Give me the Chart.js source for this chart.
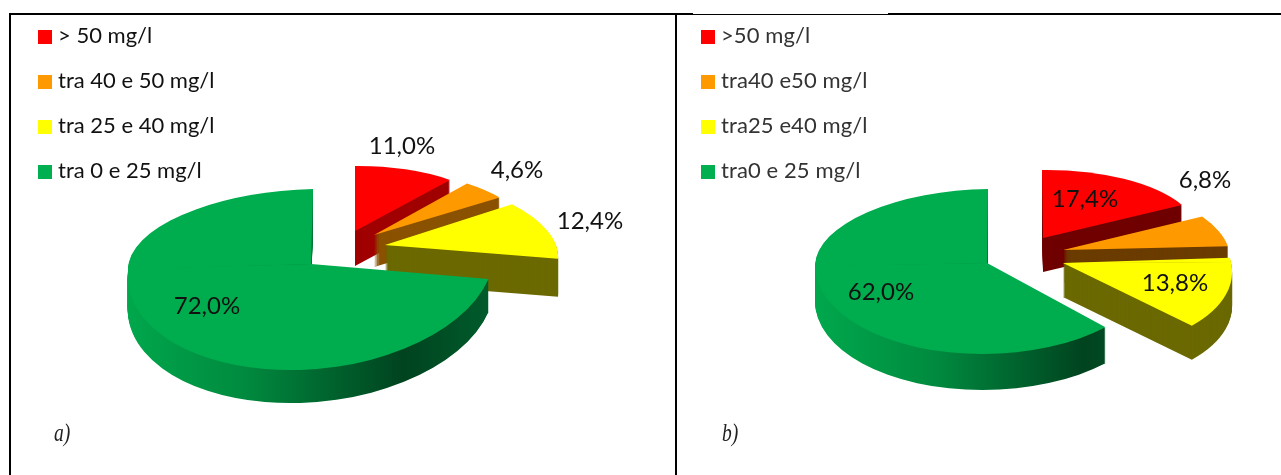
<!DOCTYPE html>
<html>
<head>
<meta charset="utf-8">
<script src="https://cdn.jsdelivr.net/npm/chart.js@4"></script>
<style>
  html, body { margin:0; padding:0; background:#fff; }
  #page { position:relative; width:1281px; height:475px; overflow:hidden; }
  canvas { position:absolute; top:0; }
  .rule { position:absolute; background:#000; }
  .row { position:absolute; font-family:Lato, sans-serif; white-space:pre; line-height:24px; height:24px; }
  .box { position:absolute; width:14px; height:14px; top:7px; left:0; }
  .tag { position:absolute; top:419px; font:italic 25px "Liberation Serif", serif; color:#222; transform:scaleX(0.78); transform-origin:left top; }
</style>
</head>
<body>
<div id="page">
  <canvas id="pieA" width="676" height="475" style="left:0"></canvas>
  <canvas id="pieB" width="605" height="475" style="left:676px"></canvas>
  <div class="rule" style="left:9px;top:13px;width:684px;height:2px"></div>
  <div class="rule" style="left:693px;top:14px;width:195px;height:1px"></div>
  <div class="rule" style="left:888px;top:13px;width:393px;height:2px"></div>
  <div class="rule" style="left:9px;top:13px;width:2px;height:462px"></div>
  <div class="rule" style="left:675px;top:13px;width:2px;height:462px"></div>
  <div class="tag" style="left:54px">a)</div>
  <div class="tag" style="left:722px">b)</div>
</div>
<script>
const labelsA = ["> 50 mg/l", "tra 40 e 50 mg/l", "tra 25 e 40 mg/l", "tra 0 e 25 mg/l"];
const labelsB = [">50 mg/l", "tra40 e50 mg/l", "tra25 e40 mg/l", "tra0 e 25 mg/l"];
const valuesA = [11.0, 4.6, 12.4, 72.0];
const valuesB = [17.4, 6.8, 13.8, 62.0];

const COLORS = ["#ff0000", "#ff9900", "#ffff00", "#00ad4e"];
const LEGEND_COLORS = ["#ff0000", "#ff9900", "#ffff00", "#00b050"];
const SIDES_A = ["#a00000", "#8a5200", "#6b6900", null];
const SIDES_B = ["#700000", "#6b3c00", "#6b6900", null];
const LABEL_FONT = "24px Lato, sans-serif";

// fake 3d: how each slice is exploded and flattened (page px)
const viewA = [
  { x:355, y:231, rx:149, tilt:-1.5, skewUp:0,  ryUp:65, skewDown:0,   ryDown:65,  depth:35 },
  { x:374, y:235, rx:158, tilt:-1,   skewUp:10, ryUp:66, skewDown:10,  ryDown:66,  depth:32 },
  { x:385, y:245, rx:171, tilt:0,    skewUp:27, ryUp:73, skewDown:27,  ryDown:73,  depth:38 },
  { x:311, y:264, rx:183, tilt:-5,   skewUp:-2, ryUp:75, skewDown:-12, ryDown:106, depth:33 }
];
const viewB = [
  { x:1043, y:238, rx:157, tilt:-2, skewUp:1,  ryUp:68, skewDown:1,  ryDown:68, depth:34 },
  { x:1063, y:250, rx:166, tilt:0,  skewUp:18, ryUp:73, skewDown:18, ryDown:73, depth:33 },
  { x:1063, y:263, rx:168, tilt:-1, skewUp:19, ryUp:87, skewDown:19, ryDown:87, depth:34 },
  { x:987,  y:263, rx:172, tilt:-3, skewUp:-1, ryUp:74, skewDown:1,  ryDown:91, depth:36 }
];
const labelPosA = [[402,146],[517,170],[590,221],[207,306]];
const labelPosB = [[1085,199],[1205,180],[1175,283],[881,292]];

// draw one arc through the slice's flattening, upper and lower half separately
function drawFlat(ctx, arc, v, left, drop, paint) {
  const R = arc.outerRadius;
  const shape = Object.create(arc, { options: { value: {
    backgroundColor: paint, borderColor: paint, borderWidth: 0, borderRadius: 0,
    offset: 0, spacing: 0, circular: true, borderAlign: "center"
  } } });
  [[v.skewUp, v.ryUp, -R - 2, R + 2.5], [v.skewDown, v.ryDown, 0, R + 2]].forEach(h => {
    ctx.save();
    ctx.translate(v.x - left, v.y + drop);
    ctx.transform(v.rx / R, v.tilt / R, h[0] / R, h[1] / R, 0, 0);
    ctx.beginPath();
    ctx.rect(-R - 2, h[2], 2 * R + 4, h[3]);
    ctx.clip();
    ctx.translate(-arc.x, -arc.y);
    shape.draw(ctx);
    ctx.restore();
  });
}

function sideGradient(ctx, arc) {
  const R = arc.outerRadius;
  const g = ctx.createLinearGradient(arc.x - R, 0, arc.x + R, 0);
  g.addColorStop(0, "#00a84c");
  g.addColorStop(0.35, "#008a3f");
  g.addColorStop(0.78, "#00431f");
  g.addColorStop(1, "#005c2b");
  return g;
}

function makePie(id, values, labels, view, sides, labelPos) {
  const canvas = document.getElementById(id);
  const left = canvas.offsetLeft;
  new Chart(canvas, {
    type: "pie",
    data: { labels: labels, datasets: [{ data: values, backgroundColor: COLORS, borderWidth: 0 }] },
    options: {
      responsive: false,
      animation: false,
      plugins: { legend: { display: false }, tooltip: { enabled: false } }
    },
    plugins: [{
      id: "flat3d",
      beforeDatasetDraw(chart) {
        const ctx = chart.ctx;
        chart.getDatasetMeta(0).data.forEach((arc, i) => {
          const v = view[i];
          const side = sides[i] || sideGradient(ctx, arc);
          for (let d = v.depth; d > 0; d--) drawFlat(ctx, arc, v, left, d, side);
          drawFlat(ctx, arc, v, left, 0, COLORS[i]);
        });
        return false;
      },
      afterDraw(chart) {
        const ctx = chart.ctx;
        ctx.save();
        ctx.font = LABEL_FONT;
        ctx.fillStyle = "#111";
        ctx.textAlign = "center";
        ctx.textBaseline = "middle";
        values.forEach((val, i) => {
          ctx.fillText(val.toFixed(1).replace(".", ",") + "%", labelPos[i][0] - left, labelPos[i][1]);
        });
        ctx.restore();
      }
    }]
  });
}

function makeLegend(labels, boxX, textX, tops, style) {
  const page = document.getElementById("page");
  labels.forEach((txt, i) => {
    const row = document.createElement("div");
    row.className = "row";
    row.style.left = boxX + "px";
    row.style.top = tops[i] + "px";
    row.style.paddingLeft = (textX - boxX) + "px";
    row.style.fontSize = style.size + "px";
    row.style.color = style.color;
    row.style.letterSpacing = style.spacing + "px";
    row.textContent = txt;
    const box = document.createElement("span");
    box.className = "box";
    box.style.background = LEGEND_COLORS[i];
    row.appendChild(box);
    page.appendChild(row);
  });
}

makePie("pieA", valuesA, labelsA, viewA, SIDES_A, labelPosA);
makePie("pieB", valuesB, labelsB, viewB, SIDES_B, labelPosB);
makeLegend(labelsA, 38, 58, [23, 68, 113, 158], { size: 22, color: "#111", spacing: 0 });
makeLegend(labelsB, 701, 721, [23, 68, 113, 158], { size: 22, color: "#333", spacing: 0.1 });
</script>
</body>
</html>
